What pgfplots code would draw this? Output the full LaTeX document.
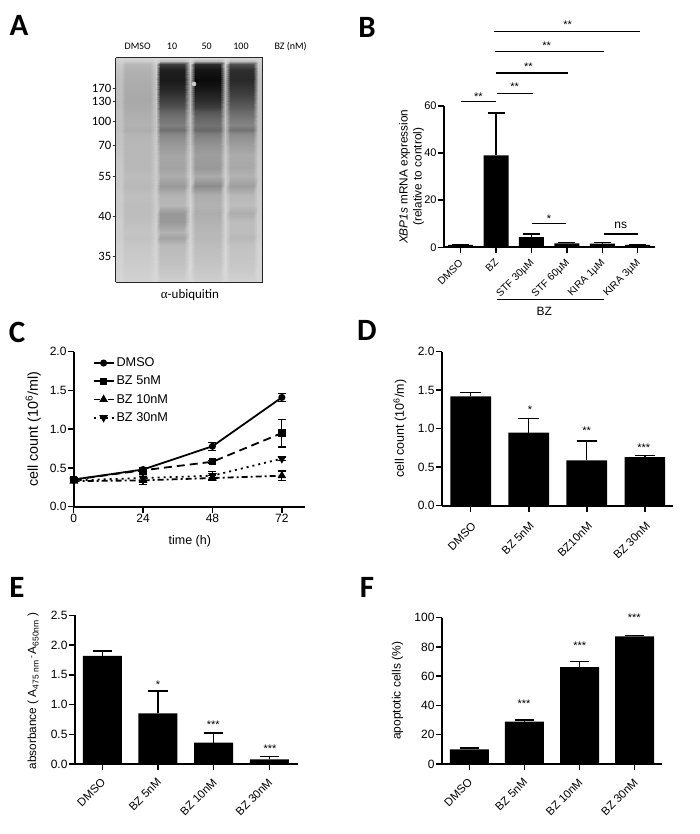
\documentclass[border=0pt]{standalone}
\usepackage{fontspec}
\usepackage{pgfplots}
\pgfplotsset{compat=1.18}
\setmainfont{Liberation Sans}
\newfontfamily\calib{Carlito}
\newfontfamily\tms{Liberation Serif}
\newcommand{\tk}{\fontsize{12}{14}\selectfont}
\newcommand{\rk}{\fontsize{11.4}{13}\selectfont}
\pgfplotsset{
  colormap={blot}{gray(0cm)=(0); gray(1cm)=(1)},
  prism/.style={
    scale only axis, axis x line=bottom, axis y line=left,
    x axis line style={-,line width=2pt}, y axis line style={-,line width=2pt},
    tick align=outside, major tick length=6pt,
    tick style={black,line width=1.5pt},
    tick label style={font=\tk},
    label style={font=\tk},
    tick label style={/pgf/number format/assume math mode=true},
    xtick pos=bottom, ytick pos=left,
    tick label style={inner sep=1pt},
    clip=false, ymin=0, anchor=south west,
  },
  one dec/.style={yticklabel style={/pgf/number format/.cd,fixed,fixed zerofill,precision=1}},
  cats/.style={xtick={0,1,2,3,4,5}, x tick label style={font=\rk,rotate=45,anchor=north east,xshift=-5.5pt,yshift=-3pt}},
  barp/.style={ybar,bar shift=0pt,bar width=#1,fill=black,draw=none,
    error bars/y dir=plus,error bars/y explicit,
    error bars/error bar style={line width=1.3pt,black}},
  cap/.style={error bars/error mark options={rotate=90,mark size=#1,line width=1.3pt,black}},
}
\tikzset{
  sig/.style={font=\fontsize{11}{13}\selectfont,inner sep=0pt},
  sl/.style={line width=1pt,black},
  lett/.style={font=\calib\bfseries\fontsize{31}{32}\selectfont,inner sep=0pt,anchor=center},
}
\begin{document}
\begin{tikzpicture}[x=1pt,y=1pt]
\path[use as bounding box] (0,-834) rectangle (700,0);
\coordinate (pA) at (115.5,-282);
\coordinate (pB) at (443.7,-247.3);
\coordinate (pC) at (73.7,-506.7);
\coordinate (pD) at (441.7,-505.7);
\coordinate (pE) at (74.7,-764);
\coordinate (pF) at (441.7,-764);

% ---------- A : blot
\begin{axis}[at={(pA)},anchor=south west,scale only axis,width=147pt,height=224pt,
  view={0}{90},xmin=115.5,xmax=262.5,ymin=58,ymax=282,y dir=reverse,
  colormap name=blot,point meta min=0,point meta max=1,
  xtick=\empty,ztick=\empty,
  ytick={88.7,101.7,121.3,145.3,176.7,216.7,256.7},
  yticklabels={170,130,100,70,55,40,35},
  tick align=outside,major tick length=3pt,ytick pos=left,
  tick style={black!80,line width=0.7pt},
  yticklabel style={font=\calib\fontsize{12.7}{14}\selectfont,inner sep=1pt,/pgf/number format/assume math mode=true},
  axis line style={line width=1pt,black!85},axis on top]
\addplot3[surf,shader=interp,mesh/cols=15] table[row sep=\\,x=x,y=y,z=z]{
x y z\\
115.5 58 .82\\121 58 .84\\125 58 .84\\150 58 .84\\156 58 .85\\160 58 .85\\184 58 .85\\190 58 .86\\195 58 .85\\220 58 .85\\225 58 .86\\230 58 .85\\253 58 .85\\258 58 .84\\262.5 58 .82\\
115.5 61 .80\\121 61 .82\\125 61 .80\\150 61 .80\\156 61 .84\\160 61 .75\\184 61 .75\\190 61 .85\\195 61 .72\\220 61 .72\\225 61 .85\\230 61 .75\\253 61 .75\\258 61 .82\\262.5 61 .80\\
115.5 64 .78\\121 64 .80\\125 64 .72\\150 64 .72\\156 64 .82\\160 64 .25\\184 64 .25\\190 64 .82\\195 64 .18\\220 64 .18\\225 64 .82\\230 64 .32\\253 64 .32\\258 64 .80\\262.5 64 .78\\
115.5 70 .76\\121 70 .78\\125 70 .70\\150 70 .70\\156 70 .80\\160 70 .12\\184 70 .12\\190 70 .78\\195 70 .08\\220 70 .08\\225 70 .78\\230 70 .18\\253 70 .18\\258 70 .78\\262.5 70 .76\\
115.5 80 .74\\121 80 .76\\125 80 .68\\150 80 .68\\156 80 .78\\160 80 .10\\184 80 .10\\190 80 .72\\195 80 .04\\220 80 .04\\225 80 .72\\230 80 .16\\253 80 .16\\258 80 .76\\262.5 80 .74\\
115.5 90 .74\\121 90 .75\\125 90 .67\\150 90 .67\\156 90 .78\\160 90 .16\\184 90 .16\\190 90 .72\\195 90 .10\\220 90 .10\\225 90 .72\\230 90 .22\\253 90 .22\\258 90 .76\\262.5 90 .74\\
115.5 100 .74\\121 100 .75\\125 100 .66\\150 100 .66\\156 100 .78\\160 100 .25\\184 100 .25\\190 100 .72\\195 100 .17\\220 100 .17\\225 100 .72\\230 100 .30\\253 100 .30\\258 100 .76\\262.5 100 .74\\
115.5 107 .74\\121 107 .75\\125 107 .67\\150 107 .67\\156 107 .78\\160 107 .32\\184 107 .32\\190 107 .74\\195 107 .24\\220 107 .24\\225 107 .74\\230 107 .36\\253 107 .36\\258 107 .76\\262.5 107 .74\\
115.5 112 .75\\121 112 .76\\125 112 .68\\150 112 .68\\156 112 .78\\160 112 .40\\184 112 .40\\190 112 .74\\195 112 .34\\220 112 .34\\225 112 .74\\230 112 .42\\253 112 .42\\258 112 .77\\262.5 112 .75\\
115.5 118 .75\\121 118 .76\\125 118 .69\\150 118 .69\\156 118 .78\\160 118 .45\\184 118 .45\\190 118 .76\\195 118 .40\\220 118 .40\\225 118 .76\\230 118 .47\\253 118 .47\\258 118 .77\\262.5 118 .75\\
115.5 125 .75\\121 125 .76\\125 125 .70\\150 125 .70\\156 125 .78\\160 125 .50\\184 125 .50\\190 125 .76\\195 125 .45\\220 125 .45\\225 125 .76\\230 125 .52\\253 125 .52\\258 125 .77\\262.5 125 .75\\
115.5 130 .75\\121 130 .76\\125 130 .68\\150 130 .68\\156 130 .78\\160 130 .44\\184 130 .44\\190 130 .74\\195 130 .41\\220 130 .41\\225 130 .74\\230 130 .45\\253 130 .45\\258 130 .77\\262.5 130 .75\\
115.5 134 .76\\121 134 .77\\125 134 .71\\150 134 .71\\156 134 .79\\160 134 .53\\184 134 .53\\190 134 .76\\195 134 .50\\220 134 .50\\225 134 .76\\230 134 .55\\253 134 .55\\258 134 .78\\262.5 134 .76\\
115.5 145 .76\\121 145 .77\\125 145 .72\\150 145 .72\\156 145 .80\\160 145 .60\\184 145 .60\\190 145 .78\\195 145 .58\\220 145 .58\\225 145 .78\\230 145 .62\\253 145 .62\\258 145 .79\\262.5 145 .76\\
115.5 155 .77\\121 155 .78\\125 155 .72\\150 155 .72\\156 155 .80\\160 155 .65\\184 155 .65\\190 155 .80\\195 155 .62\\220 155 .62\\225 155 .80\\230 155 .67\\253 155 .67\\258 155 .80\\262.5 155 .77\\
115.5 168 .78\\121 168 .79\\125 168 .72\\150 168 .72\\156 168 .80\\160 168 .64\\184 168 .64\\190 168 .80\\195 168 .60\\220 168 .60\\225 168 .80\\230 168 .66\\253 168 .66\\258 168 .80\\262.5 168 .78\\
115.5 176 .78\\121 176 .79\\125 176 .74\\150 176 .74\\156 176 .80\\160 176 .68\\184 176 .68\\190 176 .82\\195 176 .67\\220 176 .67\\225 176 .82\\230 176 .70\\253 176 .70\\258 176 .80\\262.5 176 .78\\
115.5 186 .78\\121 186 .79\\125 186 .72\\150 186 .72\\156 186 .80\\160 186 .60\\184 186 .60\\190 186 .80\\195 186 .55\\220 186 .55\\225 186 .80\\230 186 .62\\253 186 .62\\258 186 .80\\262.5 186 .78\\
115.5 195 .79\\121 195 .80\\125 195 .75\\150 195 .75\\156 195 .81\\160 195 .70\\184 195 .70\\190 195 .82\\195 195 .68\\220 195 .68\\225 195 .82\\230 195 .72\\253 195 .72\\258 195 .81\\262.5 195 .79\\
115.5 205 .79\\121 205 .80\\125 205 .74\\150 205 .74\\156 205 .81\\160 205 .72\\184 205 .72\\190 205 .83\\195 205 .70\\220 205 .70\\225 205 .83\\230 205 .74\\253 205 .74\\258 205 .81\\262.5 205 .79\\
115.5 213 .79\\121 213 .80\\125 213 .74\\150 213 .74\\156 213 .81\\160 213 .60\\184 213 .60\\190 213 .82\\195 213 .68\\220 213 .68\\225 213 .83\\230 213 .68\\253 213 .68\\258 213 .81\\262.5 213 .79\\
115.5 222 .80\\121 222 .81\\125 222 .75\\150 222 .75\\156 222 .82\\160 222 .60\\184 222 .60\\190 222 .82\\195 222 .70\\220 222 .70\\225 222 .83\\230 222 .74\\253 222 .74\\258 222 .82\\262.5 222 .80\\
115.5 232 .80\\121 232 .81\\125 232 .77\\150 232 .77\\156 232 .82\\160 232 .70\\184 232 .70\\190 232 .83\\195 232 .72\\220 232 .72\\225 232 .83\\230 232 .74\\253 232 .74\\258 232 .82\\262.5 232 .80\\
115.5 238 .80\\121 238 .81\\125 238 .76\\150 238 .76\\156 238 .82\\160 238 .64\\184 238 .64\\190 238 .83\\195 238 .72\\220 238 .72\\225 238 .83\\230 238 .72\\253 238 .72\\258 238 .82\\262.5 238 .80\\
115.5 245 .81\\121 245 .82\\125 245 .78\\150 245 .78\\156 245 .83\\160 245 .73\\184 245 .73\\190 245 .84\\195 245 .74\\220 245 .74\\225 245 .84\\230 245 .76\\253 245 .76\\258 245 .83\\262.5 245 .81\\
115.5 265 .82\\121 265 .83\\125 265 .80\\150 265 .80\\156 265 .84\\160 265 .76\\184 265 .76\\190 265 .85\\195 265 .77\\220 265 .77\\225 265 .85\\230 265 .78\\253 265 .78\\258 265 .84\\262.5 265 .82\\
115.5 278 .83\\121 278 .84\\125 278 .82\\150 278 .82\\156 278 .85\\160 278 .80\\184 278 .80\\190 278 .85\\195 278 .80\\220 278 .80\\225 278 .85\\230 278 .81\\253 278 .81\\258 278 .84\\262.5 278 .83\\
115.5 282 .83\\121 282 .84\\125 282 .83\\150 282 .83\\156 282 .85\\160 282 .82\\184 282 .82\\190 282 .85\\195 282 .82\\220 282 .82\\225 282 .85\\230 282 .83\\253 282 .83\\258 282 .84\\262.5 282 .83\\
};
\end{axis}
\fill[black!20] (194,-84) circle (2.3);
\fill[black] (197,-81) circle (1.8);
\begin{scope}[font=\calib\fontsize{10}{11}\selectfont,inner sep=0pt]
\node at (137.7,-46.7) {DMSO};
\node at (172,-46.7) {10};
\node at (206.7,-46.7) {50};
\node at (241,-46.7) {100};
\node at (290.7,-46.7) {BZ (nM)};
\end{scope}
\node[font=\calib\fontsize{13}{15}\selectfont,inner sep=0pt] at (190,-295.5) {{\tms α}-ubiquitin};

% ---------- B
\begin{axis}[prism,at={(pB)},width=211.3pt,height=141.3pt,
  xmin=-0.48,xmax=5.49,ymax=60,ytick={0,20,40,60},cats,
  x tick label style={font=\fontsize{10.3}{12}\selectfont,xshift=1.5pt,yshift=2pt},
  y tick label style={font=\fontsize{11}{13}\selectfont},
  xticklabels={DMSO,BZ,STF 30µM,STF 60µM,KIRA 1µM,KIRA 3µM},
  ylabel={\shortstack{\textit{XBP1s} mRNA expression\\(relative to control)}},
  y label style={at={(axis description cs:-0.152,0.5)},rotate=0,anchor=center,font=\fontsize{11.8}{14}\selectfont}]
\addplot[barp=25pt,cap=8.5pt] table[row sep=\\,x=x,y=y,y error=e]{
x y e\\ 0 1 0.15\\ 1 39 18\\ 2 4.3 1.4\\ 3 1.7 0.35\\ 4 1.6 0.4\\ 5 1 0.2\\};
\end{axis}
\draw[sl,line width=1.2pt] (493.7,-31.7)--(640,-31.7);
\draw[sl,line width=1.2pt] (495.3,-51.7)--(604.3,-51.7);
\draw[sl,line width=1.2pt] (495.7,-73)--(568.3,-73);
\draw[sl,line width=1.5pt] (496.7,-93.7)--(533,-93.7);
\draw[sl] (461,-102)--(496,-102);
\draw[sl,line width=1.2pt] (531.7,-223.7)--(566.3,-223.7);
\draw[sl,line width=1.2pt] (603.7,-234)--(637.7,-234);
\draw[sl] (497,-299)--(604.3,-299);
\node[sig] at (567.7,-25) {**};
\node[sig] at (546.7,-46) {**};
\node[sig] at (528.3,-67) {**};
\node[sig] at (514.7,-87) {**};
\node[sig] at (478.3,-97) {**};
\node[sig] at (549,-219) {*};
\node[font=\tk,inner sep=0pt] at (620.7,-225) {ns};
\node[font=\tk,inner sep=0pt] at (544.3,-311) {BZ};

% ---------- C
\begin{axis}[prism,one dec,at={(pC)},width=231.3pt,height=155pt,
  xmin=0,xmax=80,ymax=2,xtick={0,24,48,72},ytick={0,0.5,1,1.5,2},
  xticklabel style={/pgf/number format/.cd,fixed,precision=0},
  xlabel={time (h)},
  ylabel={cell count (10\textsuperscript{6}/ml)},
  x label style={at={(axis description cs:0.502,-0.225)},anchor=center,font=\fontsize{12.5}{14}\selectfont},
  y label style={at={(axis description cs:-0.175,0.5)},rotate=0,anchor=center,font=\fontsize{14.3}{16}\selectfont},
  legend cell align=left,
  legend image code/.code={\draw[mark repeat=2,mark phase=2,#1] plot coordinates {(0pt,0pt)(10pt,0pt)(20pt,0pt)};},
  legend style={at={(axis description cs:0.077,0.981)},anchor=north west,draw=none,fill=none,
    font=\fontsize{12.7}{14}\selectfont,row sep=3.9pt,inner sep=1pt},
  every axis plot/.append style={line width=1.8pt,black},
]
\addplot[solid,mark=*,mark size=2.6pt,mark options={solid},
  error bars/.cd,y dir=both,y explicit,error bar style={line width=1.2pt,black,solid},error mark options={rotate=90,mark size=4pt,line width=1.2pt,black,solid}]
  table[row sep=\\,x=x,y=y,y error=e]{x y e\\ 0 0.35 0.02\\ 24 0.48 0.02\\ 48 0.78 0.05\\ 72 1.41 0.05\\};
\addlegendentry{DMSO}
\addplot[dash pattern=on 8pt off 5pt,mark=square*,mark size=2.8pt,mark options={solid},
  error bars/.cd,y dir=both,y explicit,error bar style={line width=1.2pt,black,solid},error mark options={rotate=90,mark size=4pt,line width=1.2pt,black,solid}]
  table[row sep=\\,x=x,y=y,y error=e]{x y e\\ 0 0.35 0.02\\ 24 0.47 0.02\\ 48 0.58 0.02\\ 72 0.95 0.18\\};
\addlegendentry{BZ 5nM}
\addplot[dash pattern=on 6pt off 3pt on 2pt off 3pt,mark=triangle*,mark size=3.2pt,mark options={solid},
  error bars/.cd,y dir=both,y explicit,error bar style={line width=1.2pt,black,solid},error mark options={rotate=90,mark size=4pt,line width=1.2pt,black,solid}]
  table[row sep=\\,x=x,y=y,y error=e]{x y e\\ 0 0.33 0.01\\ 24 0.34 0.05\\ 48 0.37 0.03\\ 72 0.40 0.06\\};
\addlegendentry{BZ 10nM}
\addplot[dash pattern=on 2pt off 4pt,mark=triangle*,mark size=3.2pt,mark options={solid,rotate=180},
  error bars/.cd,y dir=both,y explicit,error bar style={line width=1.2pt,black,solid},error mark options={rotate=90,mark size=4pt,line width=1.2pt,black,solid}]
  table[row sep=\\,x=x,y=y,y error=e]{x y e\\ 0 0.34 0.01\\ 24 0.37 0.05\\ 48 0.40 0.05\\ 72 0.62 0.02\\};
\addlegendentry{BZ 30nM}
\end{axis}

% ---------- D
\begin{axis}[prism,one dec,at={(pD)},width=231.6pt,height=154pt,
  xmin=-0.5,xmax=3.49,ymax=2,ytick={0,0.5,1,1.5,2},cats,
  x tick label style={yshift=-3pt},
  xticklabels={DMSO,BZ 5nM,BZ10nM,BZ 30nM},
  ylabel={cell count (10\textsuperscript{6}/m)},
  y label style={at={(axis description cs:-0.18,0.5)},rotate=0,anchor=center,font=\fontsize{12.5}{14}\selectfont}]
\addplot[barp=40.7pt,cap=10.3pt] table[row sep=\\,x=x,y=y,y error=e]{
x y e\\ 0 1.42 0.05\\ 1 0.95 0.18\\ 2 0.59 0.25\\ 3 0.63 0.025\\};
\end{axis}
\node[sig] at (530,-410) {*};
\node[sig] at (586.7,-431) {**};
\node[sig] at (643.7,-448) {***};

% ---------- E
\begin{axis}[prism,one dec,at={(pE)},width=223pt,height=148.7pt,
  xmin=-0.496,xmax=3.51,ymax=2.5,ytick={0,0.5,1,1.5,2,2.5},cats,
  xticklabels={DMSO,BZ 5nM,BZ 10nM,BZ 30nM},
  ylabel={absorbance ( A\raisebox{-2.5pt}{\fontsize{8.5}{9}\selectfont 475 nm}\,\raisebox{2pt}{\fontsize{8.5}{9}\selectfont -}\,A\raisebox{-2.5pt}{\fontsize{8.5}{9}\selectfont 650nm} )},
  y label style={at={(axis description cs:-0.186,0.49)},rotate=0,anchor=center,font=\fontsize{11.8}{14}\selectfont}]
\addplot[barp=39pt,cap=9.7pt] table[row sep=\\,x=x,y=y,y error=e]{
x y e\\ 0 1.82 0.08\\ 1 0.85 0.38\\ 2 0.36 0.16\\ 3 0.08 0.05\\};
\end{axis}
\node[sig] at (158,-685) {*};
\node[sig] at (213.3,-725) {***};
\node[sig] at (270,-749) {***};

% ---------- F
\begin{axis}[prism,at={(pF)},width=220.6pt,height=146.3pt,
  xmin=-0.5,xmax=3.5,ymax=100,ytick={0,20,40,60,80,100},cats,
  xticklabels={DMSO,BZ 5nM,BZ 10nM,BZ 30nM},
  ylabel={apoptotic cells (\%)},
  y label style={at={(axis description cs:-0.2,0.5)},rotate=0,anchor=center}]
\addplot[barp=39pt,cap=9.7pt] table[row sep=\\,x=x,y=y,y error=e]{
x y e\\ 0 10 1\\ 1 29 1\\ 2 66.3 4\\ 3 87.3 0.7\\};
\end{axis}
\node[sig] at (524,-703.7) {***};
\node[sig] at (579.7,-645.7) {***};
\node[sig] at (634.3,-617.3) {***};

% ---------- letters
\node[lett] at (19,-25) {A};
\node[lett] at (367,-27) {B};
\node[lett] at (17,-332) {C};
\node[lett] at (367,-330) {D};
\node[lett] at (17,-587) {E};
\node[lett] at (367,-587) {F};
\end{tikzpicture}
\end{document}
